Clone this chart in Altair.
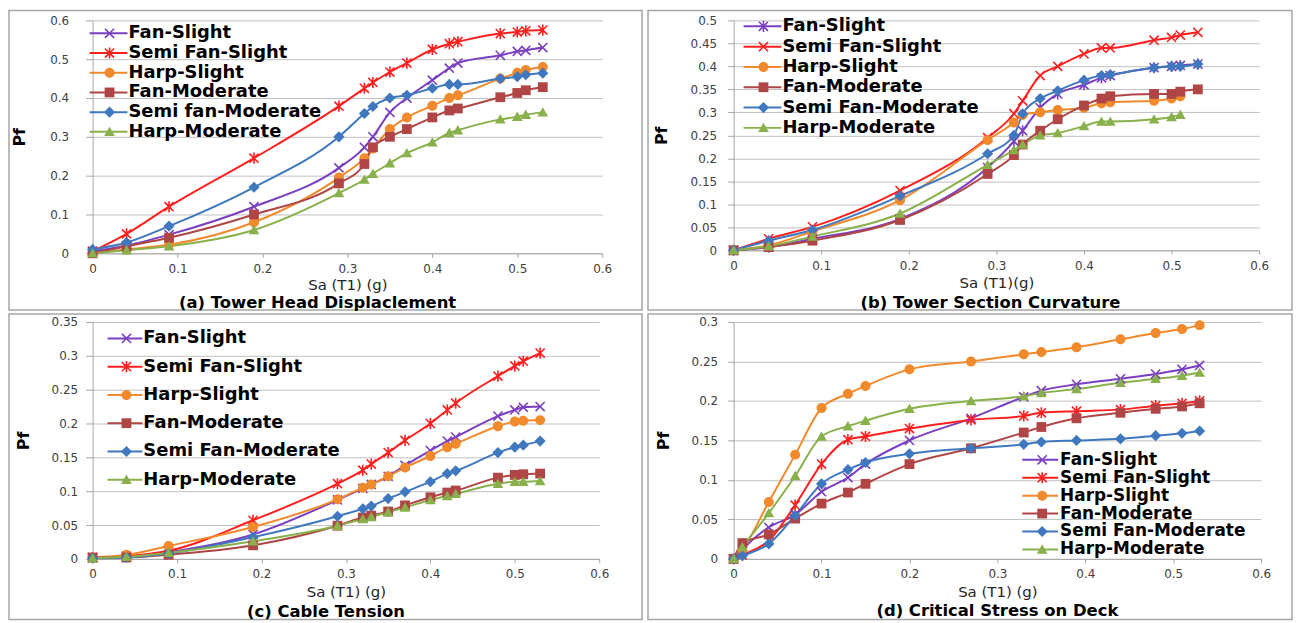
import altair as alt
import pandas as pd

# ---------------- data ----------------
X_ABC = [0, 0.04, 0.09, 0.19, 0.29, 0.32, 0.33, 0.35, 0.37, 0.40, 0.42, 0.43, 0.48, 0.50, 0.51, 0.53]
X_D = [0, 0.01, 0.04, 0.07, 0.10, 0.13, 0.15, 0.20, 0.27, 0.33, 0.35, 0.39, 0.44, 0.48, 0.51, 0.53]

NAMES_A = ["Fan-Slight", "Semi Fan-Slight", "Harp-Slight", "Fan-Moderate", "Semi fan-Moderate", "Harp-Moderate"]
NAMES = ["Fan-Slight", "Semi Fan-Slight", "Harp-Slight", "Fan-Moderate", "Semi Fan-Moderate", "Harp-Moderate"]
COLORS = ["#7A3FC0", "#FF1F1F", "#F08A2C", "#B04545", "#3F78BF", "#88B04B"]

# (a) Tower Head Displacement
A_FAN_SLIGHT = [0.005, 0.02, 0.048, 0.12, 0.22, 0.273, 0.30, 0.363, 0.40, 0.446, 0.477, 0.49, 0.51, 0.52, 0.523, 0.53]
A_SEMI_SLIGHT = [0.005, 0.05, 0.12, 0.245, 0.379, 0.425, 0.44, 0.467, 0.49, 0.525, 0.54, 0.545, 0.566, 0.57, 0.573, 0.575]
A_HARP_SLIGHT = [0, 0.01, 0.022, 0.08, 0.195, 0.245, 0.27, 0.32, 0.35, 0.38, 0.40, 0.407, 0.45, 0.465, 0.472, 0.48]
A_FAN_MOD = [0, 0.018, 0.04, 0.10, 0.18, 0.23, 0.273, 0.30, 0.32, 0.35, 0.368, 0.373, 0.402, 0.413, 0.42, 0.428]
A_SEMI_MOD = [0.01, 0.028, 0.07, 0.17, 0.30, 0.36, 0.378, 0.40, 0.407, 0.425, 0.435, 0.435, 0.45, 0.455, 0.46, 0.464]
A_HARP_MOD = [0, 0.008, 0.018, 0.06, 0.155, 0.19, 0.205, 0.232, 0.258, 0.286, 0.31, 0.317, 0.345, 0.352, 0.357, 0.363]

# (b) Tower Section Curvature
B_FAN_SLIGHT = [0, 0.007, 0.025, 0.068, 0.18, 0.237, 0.26, 0.31, 0.34, 0.36, 0.375, 0.38, 0.397, 0.40, 0.402, 0.405]
B_SEMI_SLIGHT = [0, 0.025, 0.051, 0.13, 0.245, 0.297, 0.325, 0.38, 0.40, 0.427, 0.44, 0.44, 0.457, 0.463, 0.468, 0.474]
B_HARP_SLIGHT = [0, 0.011, 0.041, 0.109, 0.24, 0.278, 0.295, 0.30, 0.305, 0.31, 0.32, 0.322, 0.325, 0.33, 0.335]
B_FAN_MOD = [0, 0.007, 0.021, 0.066, 0.166, 0.207, 0.23, 0.26, 0.285, 0.315, 0.33, 0.335, 0.34, 0.34, 0.345, 0.35]
B_SEMI_MOD = [0, 0.021, 0.044, 0.118, 0.21, 0.25, 0.297, 0.33, 0.347, 0.37, 0.38, 0.382, 0.397, 0.40, 0.40, 0.405]
B_HARP_MOD = [0, 0.009, 0.03, 0.08, 0.186, 0.218, 0.23, 0.25, 0.255, 0.27, 0.28, 0.28, 0.285, 0.29, 0.295]

# (c) Cable Tension
C_FAN_SLIGHT = [0.002, 0.003, 0.01, 0.036, 0.087, 0.104, 0.11, 0.122, 0.138, 0.16, 0.174, 0.18, 0.211, 0.22, 0.224, 0.225]
C_SEMI_SLIGHT = [0.002, 0.004, 0.012, 0.057, 0.111, 0.131, 0.14, 0.157, 0.175, 0.20, 0.22, 0.23, 0.27, 0.285, 0.292, 0.304]
C_HARP_SLIGHT = [0.002, 0.006, 0.019, 0.047, 0.088, 0.105, 0.11, 0.122, 0.135, 0.152, 0.165, 0.17, 0.196, 0.203, 0.204, 0.205]
C_FAN_MOD = [0.002, 0.002, 0.006, 0.02, 0.049, 0.061, 0.064, 0.07, 0.079, 0.091, 0.098, 0.101, 0.12, 0.124, 0.125, 0.126]
C_SEMI_MOD = [0.001, 0.002, 0.008, 0.032, 0.063, 0.074, 0.078, 0.089, 0.099, 0.114, 0.126, 0.13, 0.157, 0.165, 0.168, 0.174]
C_HARP_MOD = [0.001, 0.003, 0.009, 0.026, 0.049, 0.059, 0.062, 0.069, 0.076, 0.087, 0.093, 0.096, 0.111, 0.114, 0.114, 0.115]

# (d) Critical Stress on Deck
D_FAN_SLIGHT = [0, 0.012, 0.04, 0.056, 0.085, 0.103, 0.12, 0.15, 0.178, 0.205, 0.213, 0.221, 0.228, 0.234, 0.24, 0.245]
D_SEMI_SLIGHT = [0, 0.005, 0.023, 0.068, 0.12, 0.151, 0.155, 0.165, 0.176, 0.181, 0.185, 0.187, 0.189, 0.194, 0.197, 0.2]
D_HARP_SLIGHT = [0, 0.012, 0.072, 0.132, 0.191, 0.209, 0.219, 0.24, 0.25, 0.259, 0.262, 0.268, 0.278, 0.286, 0.291, 0.296]
D_FAN_MOD = [0, 0.02, 0.031, 0.051, 0.07, 0.084, 0.095, 0.12, 0.14, 0.16, 0.167, 0.178, 0.185, 0.19, 0.193, 0.197]
D_SEMI_MOD = [0, 0.004, 0.019, 0.055, 0.095, 0.113, 0.122, 0.133, 0.14, 0.145, 0.148, 0.15, 0.152, 0.156, 0.159, 0.162]
D_HARP_MOD = [0, 0.015, 0.058, 0.105, 0.155, 0.168, 0.175, 0.19, 0.2, 0.206, 0.21, 0.215, 0.223, 0.228, 0.232, 0.236]

TITLES = ["(a) Tower Head Displaclement", "(b) Tower Section Curvature",
          "(c) Cable Tension", "(d) Critical  Stress on Deck"]
X_TITLES = ["Sa (T1) (g)", "Sa (T1)(g)", "Sa (T1) (g)", "Sa (T1) (g)"]

# ---------------- marker shapes (style) ----------------
X_PATH = ("M0.895,-1.15L1.15,-0.895L0.255,0L1.15,0.895L0.895,1.15L0,0.255L-0.895,1.15"
          "L-1.15,0.895L-0.255,0L-1.15,-0.895L-0.895,-1.15L0,-0.255Z")
STAR_PATH = X_PATH + "M-0.18,-1.25L0.18,-1.25L0.18,1.25L-0.18,1.25Z"
CIRCLE_PATH = "M-1.12,0A1.12,1.12,0,1,1,1.12,0A1.12,1.12,0,1,1,-1.12,0Z"
SQUARE_PATH = "M-1.1,-1.1L1.1,-1.1L1.1,1.1L-1.1,1.1Z"
DIAMOND_PATH = "M0,-1.25L1.25,0L0,1.25L-1.25,0Z"
TRI_PATH = "M0,-1.15L1.2,0.95L-1.2,0.95Z"

MARK = {"x": X_PATH, "star": STAR_PATH, "circle": CIRCLE_PATH,
        "square": SQUARE_PATH, "diamond": DIAMOND_PATH, "tri": TRI_PATH}

SHAPES_STD = ["x", "star", "circle", "square", "diamond", "tri"]
SHAPES_B = ["star", "x", "circle", "square", "diamond", "tri"]

FONT = "DejaVu Sans"
GRID = "#BFBFBF"
AXC = "#A6A6A6"


def panel(xs, names, series, shapes, title, xtitle, P):
    rows = []
    for name, vals in zip(names, series):
        for xv, yv in zip(xs, vals):
            rows.append({"x": xv, "y": yv, "series": name})
    df = pd.DataFrame(rows)
    legdf = pd.DataFrame({"series": names, "idx": list(range(len(names)))})
    w, h = P["w"], P["h"]
    nt = int(round(P["ymax"] / P["ystep"]))
    yvals = [round(i * P["ystep"], 2) for i in range(nt + 1)]

    xenc = alt.X("x:Q", scale=alt.Scale(domain=[0, 0.6], nice=False, zero=False),
                 axis=alt.Axis(values=[0, 0.1, 0.2, 0.3, 0.4, 0.5, 0.6], format=".1~f",
                               grid=False, domainColor=AXC, tickColor=AXC, tickSize=4,
                               labelPadding=6, labelFlush=False, labelFont=FONT,
                               labelFontSize=12, labelColor="#404040",
                               title=xtitle, titleFont=FONT, titleFontSize=15,
                               titleFontWeight="normal", titleColor="#262626",
                               titleX=w / 2, titleY=P["xtitle"], titleAlign="center",
                               titleBaseline="middle"))
    yscale = alt.Scale(domain=[0, P["ymax"]], nice=False)
    yenc = alt.Y("y:Q", scale=yscale,
                 axis=alt.Axis(values=yvals, format=".2~f", grid=True, gridColor=GRID,
                               domainColor=AXC, tickColor=AXC, tickSize=P["ytick"],
                               labelPadding=P["ylpad"], labelFlush=False, labelFont=FONT,
                               labelFontSize=12, labelColor="#404040",
                               title="Pf", titleFont=FONT, titleFontSize=16,
                               titleFontWeight="bold", titleColor="black", titleAngle=270,
                               titleX=P["ytx"], titleY=h / 2, titleAlign="center",
                               titleBaseline="middle"))
    yenc2 = alt.Y("y:Q", scale=yscale, axis=None)
    cenc = alt.Color("series:N", scale=alt.Scale(domain=names, range=COLORS), legend=None)
    senc = alt.Shape("series:N", scale=alt.Scale(domain=names, range=[MARK[s] for s in shapes]),
                     legend=None)
    base = alt.Chart(df)
    lines = base.mark_line(strokeWidth=2, interpolate="monotone").encode(x=xenc, y=yenc, color=cenc)
    points = base.mark_point(filled=True, size=80, opacity=1).encode(
        x=xenc, y=yenc2, color=cenc, shape=senc)

    # legend drawn from the series names, rows placed by a point scale
    ly = alt.Y("idx:O", scale=alt.Scale(type="point", domain=list(range(len(names))),
                                        range=[P["ly0"], P["ly1"]], padding=0), axis=None)
    lbase = alt.Chart(legdf)
    leg_lines = lbase.mark_rule(strokeWidth=2).encode(
        x=alt.value(P["lx1"]), x2=alt.value(P["lx2"]), y=ly, color=cenc)
    leg_marks = lbase.mark_point(filled=True, size=80, opacity=1).encode(
        x=alt.value(P["lcx"]), y=ly, color=cenc, shape=senc)
    leg_text = lbase.mark_text(align="left", baseline="middle", font=FONT, fontSize=P["lfs"],
                               fontWeight="bold", color="black").encode(
        x=alt.value(P["ltx"]), y=ly, text="series:N")

    fx1, fx2, fy1, fy2 = P["frame"]
    frame = alt.Chart(pd.DataFrame({"k": [0]})).mark_rect(
        fill="transparent", stroke="#A6A6A6", strokeWidth=1.5).encode(
        x=alt.value(fx1), x2=alt.value(fx2), y=alt.value(fy1), y2=alt.value(fy2))
    return alt.layer(frame, lines, points, leg_lines, leg_marks, leg_text).resolve_scale(
        y="independent").properties(
        width=w, height=h,
        title=alt.TitleParams(title, orient="bottom", anchor="middle", frame="group",
                              offset=P["toff"], dx=P["tdx"], font=FONT, fontSize=16.5,
                              fontWeight="bold", color="black", baseline="middle"))


PA = dict(w=512, h=234, ymax=0.6, ystep=0.1, frame=(-84, 552, -10, 291), ytick=7, ylpad=17,
          ytx=-73, xtitle=31, toff=-8, tdx=-30,
          ly0=13, ly1=112, lx1=-3, lx2=35, lcx=17, ltx=36, lfs=18)
PB = dict(w=528, h=231, ymax=0.5, ystep=0.05, frame=(-86, 561, -10, 291), ytick=6, ylpad=11,
          ytx=-72, xtitle=32, toff=-7.5, tdx=-6,
          ly0=6, ly1=108, lx1=10, lx2=48, lcx=30, ltx=49, lfs=18)
PC = dict(w=509, h=238, ymax=0.35, ystep=0.05, frame=(-84, 552, -8, 299), ytick=7, ylpad=8,
          ytx=-69, xtitle=33, toff=-8, tdx=-20,
          ly0=16.5, ly1=158.5, lx1=15, lx2=50, lcx=34, ltx=51, lfs=18)
PD = dict(w=530, h=238, ymax=0.3, ystep=0.05, frame=(-86, 561, -8, 299), ytick=6, ylpad=10,
          ytx=-70, xtitle=32.5, toff=-9, tdx=0,
          ly0=138.5, ly1=228.5, lx1=290, lx2=326, lcx=310, ltx=328, lfs=17)

pa = panel(X_ABC, NAMES_A, [A_FAN_SLIGHT, A_SEMI_SLIGHT, A_HARP_SLIGHT, A_FAN_MOD, A_SEMI_MOD, A_HARP_MOD],
           SHAPES_STD, TITLES[0], X_TITLES[0], PA)
pb = panel(X_ABC, NAMES, [B_FAN_SLIGHT, B_SEMI_SLIGHT, B_HARP_SLIGHT, B_FAN_MOD, B_SEMI_MOD, B_HARP_MOD],
           SHAPES_B, TITLES[1], X_TITLES[1], PB)
pc = panel(X_ABC, NAMES, [C_FAN_SLIGHT, C_SEMI_SLIGHT, C_HARP_SLIGHT, C_FAN_MOD, C_SEMI_MOD, C_HARP_MOD],
           SHAPES_STD, TITLES[2], X_TITLES[2], PC)
pd_ = panel(X_D, NAMES, [D_FAN_SLIGHT, D_SEMI_SLIGHT, D_HARP_SLIGHT, D_FAN_MOD, D_SEMI_MOD, D_HARP_MOD],
            SHAPES_STD, TITLES[3], X_TITLES[3], PD)

row1 = alt.hconcat(pa, pb, spacing=4).resolve_scale(color="independent", shape="independent")
row2 = alt.hconcat(pc, pd_, spacing=4).resolve_scale(color="independent", shape="independent")
chart = alt.vconcat(row1, row2, spacing=1).resolve_scale(
    color="independent", shape="independent").properties(padding=0).configure_view(stroke=None)

chart.save("out.html", embed_options={"renderer": "svg", "actions": False})
